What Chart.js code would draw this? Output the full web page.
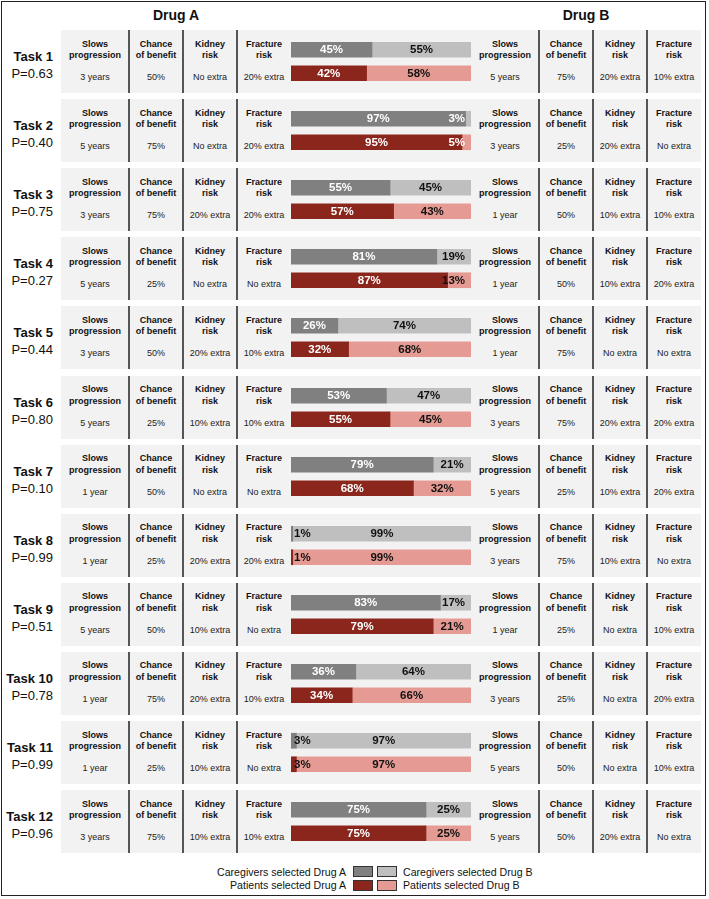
<!DOCTYPE html>
<html>
<head>
<meta charset="utf-8">
<script src="https://cdn.jsdelivr.net/npm/chart.js@4"></script>
<style>
    html, body { margin: 0; padding: 0; background: #fff; }
    body { width: 709px; height: 899px; position: relative; overflow: hidden;
           font-family: 'Liberation Sans', Arial, sans-serif; color: #111; }
    .frame { position: absolute; left: 1px; top: 1px; width: 703px; height: 893px; border: 1.5px solid #222; }
    .title { position: absolute; top: 7px; font-size: 14px; font-weight: bold; width: 120px; text-align: center; }
    .task { position: absolute; left: 0; width: 53px; text-align: right; }
    .task .name { font-size: 13px; font-weight: bold; line-height: 17px; }
    .task .p { font-size: 13px; line-height: 17px; }
    .panel { position: absolute; left: 61px; width: 640px; height: 63px; background: #f2f2f2; }
    .cell { position: absolute; top: 0; height: 63px; text-align: center; }
    .cell .head { position: absolute; top: 8.5px; left: 0; right: 0; font-size: 9px; font-weight: bold; line-height: 11.5px; }
    .cell .val { position: absolute; top: 41px; left: 0; right: 0; font-size: 9px; line-height: 12px; color: #222; }
    .sep { position: absolute; top: 0; width: 1.6px; height: 63px; background: #555; }
    .panel canvas { position: absolute; left: 230px; top: 8px; }
    .legend { position: absolute; font-size: 10.6px; line-height: 12px; }
    .swatch { position: absolute; width: 18px; height: 9px; border: 1.5px solid #333; }
</style>
</head>
<body>
<div class="frame"></div>
<div class="title" style="left:116px">Drug A</div>
<div class="title" style="left:526px">Drug B</div>
<div id="rows"></div>
<div id="legend"></div>

<script>
// Données
const tasks = ['Task 1', 'Task 2', 'Task 3', 'Task 4', 'Task 5', 'Task 6',
               'Task 7', 'Task 8', 'Task 9', 'Task 10', 'Task 11', 'Task 12'];
const pValues = ['0.63', '0.40', '0.75', '0.27', '0.44', '0.80',
                 '0.10', '0.99', '0.51', '0.78', '0.99', '0.96'];
const attributeHeaders = [['Slows', 'progression'], ['Chance', 'of benefit'], ['Kidney', 'risk'], ['Fracture', 'risk']];

const slowsA = ['3 years', '5 years', '3 years', '5 years', '3 years', '5 years',
                '1 year', '1 year', '5 years', '1 year', '1 year', '3 years'];
const chanceA = ['50%', '75%', '75%', '25%', '50%', '25%', '50%', '25%', '50%', '75%', '25%', '75%'];
const kidneyA = ['No extra', 'No extra', '20% extra', 'No extra', '20% extra', '10% extra',
                 'No extra', '20% extra', '10% extra', '20% extra', '10% extra', '10% extra'];
const fractureA = ['20% extra', '20% extra', '20% extra', 'No extra', '10% extra', '10% extra',
                   'No extra', '20% extra', 'No extra', '10% extra', 'No extra', '10% extra'];

const slowsB = ['5 years', '3 years', '1 year', '1 year', '1 year', '3 years',
                '5 years', '3 years', '1 year', '3 years', '5 years', '5 years'];
const chanceB = ['75%', '25%', '50%', '50%', '75%', '75%', '25%', '75%', '25%', '25%', '50%', '50%'];
const kidneyB = ['20% extra', '20% extra', '10% extra', '10% extra', 'No extra', '20% extra',
                 '10% extra', '10% extra', 'No extra', 'No extra', 'No extra', '20% extra'];
const fractureB = ['10% extra', 'No extra', '10% extra', '20% extra', 'No extra', '20% extra',
                   '20% extra', 'No extra', '10% extra', '20% extra', '10% extra', 'No extra'];

const caregiversA = [45, 97, 55, 81, 26, 53, 79, 1, 83, 36, 3, 75];
const caregiversB = [55, 3, 45, 19, 74, 47, 21, 99, 17, 64, 97, 25];
const patientsA = [42, 95, 57, 87, 32, 55, 68, 1, 79, 34, 3, 75];
const patientsB = [58, 5, 43, 13, 68, 45, 32, 99, 21, 66, 97, 25];

const legendLabels = [
    ['Caregivers selected Drug A', 'Caregivers selected Drug B'],
    ['Patients selected Drug A', 'Patients selected Drug B']
];

// Couleurs
const colors = {
    caregiverA: '#808080',
    caregiverB: '#bfbfbf',
    patientA: '#8b261c',
    patientB: '#e59b93'
};

// Colonnes de texte (position gauche / largeur dans le panneau)
const cellsA = [[0, 68], [68, 54], [122, 54], [176, 54]];
const cellsB = [[410, 68], [478, 54], [532, 54], [586, 54]];
const separators = [68, 122, 176, 478, 532, 586];

const ROW_TOP = 30;
const ROW_PITCH = 69.1;

// Étiquettes de pourcentage dans les barres
const barLabels = {
    id: 'barLabels',
    afterDatasetsDraw(chart) {
        const ctx = chart.ctx;
        const area = chart.chartArea;
        ctx.save();
        ctx.font = "bold 11.5px 'Liberation Sans', Arial, sans-serif";
        ctx.textAlign = 'center';
        ctx.textBaseline = 'middle';
        chart.data.datasets.forEach((ds, d) => {
            chart.getDatasetMeta(d).data.forEach((bar, i) => {
                const value = ds.data[i];
                const text = value + '%';
                const w = ctx.measureText(text).width;
                const left = Math.min(bar.x, bar.base);
                const right = Math.max(bar.x, bar.base);
                let cx = (left + right) / 2;
                cx = Math.max(cx, area.left + w / 2 + 3);
                cx = Math.min(cx, area.right - w / 2 - 6);
                if (d === 0) ctx.fillStyle = value < 10 ? '#111' : '#fff';
                else ctx.fillStyle = value < 10 ? '#fff' : '#111';
                ctx.fillText(text, cx, bar.y + 0.5);
            });
        });
        ctx.restore();
    }
};

function makeCell(panel, box, header, value) {
    const cell = document.createElement('div');
    cell.className = 'cell';
    cell.style.left = box[0] + 'px';
    cell.style.width = box[1] + 'px';
    cell.innerHTML = `<div class="head">${header[0]}<br>${header[1]}</div><div class="val">${value}</div>`;
    panel.appendChild(cell);
}

function buildRows() {
    const rows = document.getElementById('rows');
    tasks.forEach((task, i) => {
        const top = ROW_TOP + i * ROW_PITCH;

        const label = document.createElement('div');
        label.className = 'task';
        label.style.top = (top + 18) + 'px';
        label.innerHTML = `<div class="name">${task}</div><div class="p">P=${pValues[i]}</div>`;
        rows.appendChild(label);

        const panel = document.createElement('div');
        panel.className = 'panel';
        panel.style.top = top + 'px';
        rows.appendChild(panel);

        const valuesA = [slowsA[i], chanceA[i], kidneyA[i], fractureA[i]];
        const valuesB = [slowsB[i], chanceB[i], kidneyB[i], fractureB[i]];
        cellsA.forEach((box, k) => makeCell(panel, box, attributeHeaders[k], valuesA[k]));
        cellsB.forEach((box, k) => makeCell(panel, box, attributeHeaders[k], valuesB[k]));

        separators.forEach(x => {
            const s = document.createElement('div');
            s.className = 'sep';
            s.style.left = (x - 0.8) + 'px';
            panel.appendChild(s);
        });

        const canvas = document.createElement('canvas');
        canvas.width = 180;
        canvas.height = 47;
        canvas.style.width = '180px';
        canvas.style.height = '47px';
        panel.appendChild(canvas);

        new Chart(canvas, {
            type: 'bar',
            data: {
                labels: ['Caregivers', 'Patients'],
                datasets: [{
                    label: 'Drug A',
                    data: [caregiversA[i], patientsA[i]],
                    backgroundColor: [colors.caregiverA, colors.patientA],
                    borderWidth: 0,
                    barThickness: 15
                }, {
                    label: 'Drug B',
                    data: [caregiversB[i], patientsB[i]],
                    backgroundColor: [colors.caregiverB, colors.patientB],
                    borderWidth: 0,
                    barThickness: 15
                }]
            },
            options: {
                indexAxis: 'y',
                responsive: false,
                animation: false,
                layout: { padding: 0 },
                scales: {
                    x: { stacked: true, min: 0, max: 100, display: false },
                    y: { stacked: true, display: false }
                },
                plugins: {
                    legend: { display: false },
                    tooltip: { enabled: false }
                }
            },
            plugins: [barLabels]
        });
    });
}

function buildLegend() {
    const legend = document.getElementById('legend');
    const swatchColors = [[colors.caregiverA, colors.caregiverB], [colors.patientA, colors.patientB]];
    legendLabels.forEach((pair, r) => {
        const y = 866 + r * 13.5;
        const left = document.createElement('div');
        left.className = 'legend';
        left.style.cssText = `right:${709 - 346}px; top:${y - 0.5}px; text-align:right;`;
        left.textContent = pair[0];
        legend.appendChild(left);

        swatchColors[r].forEach((c, k) => {
            const sw = document.createElement('div');
            sw.className = 'swatch';
            sw.style.cssText = `left:${353 + k * 23.5}px; top:${y}px; background:${c};`;
            legend.appendChild(sw);
        });

        const right = document.createElement('div');
        right.className = 'legend';
        right.style.cssText = `left:403px; top:${y - 0.5}px;`;
        right.textContent = pair[1];
        legend.appendChild(right);
    });
}

buildRows();
buildLegend();
</script>
</body>
</html>
